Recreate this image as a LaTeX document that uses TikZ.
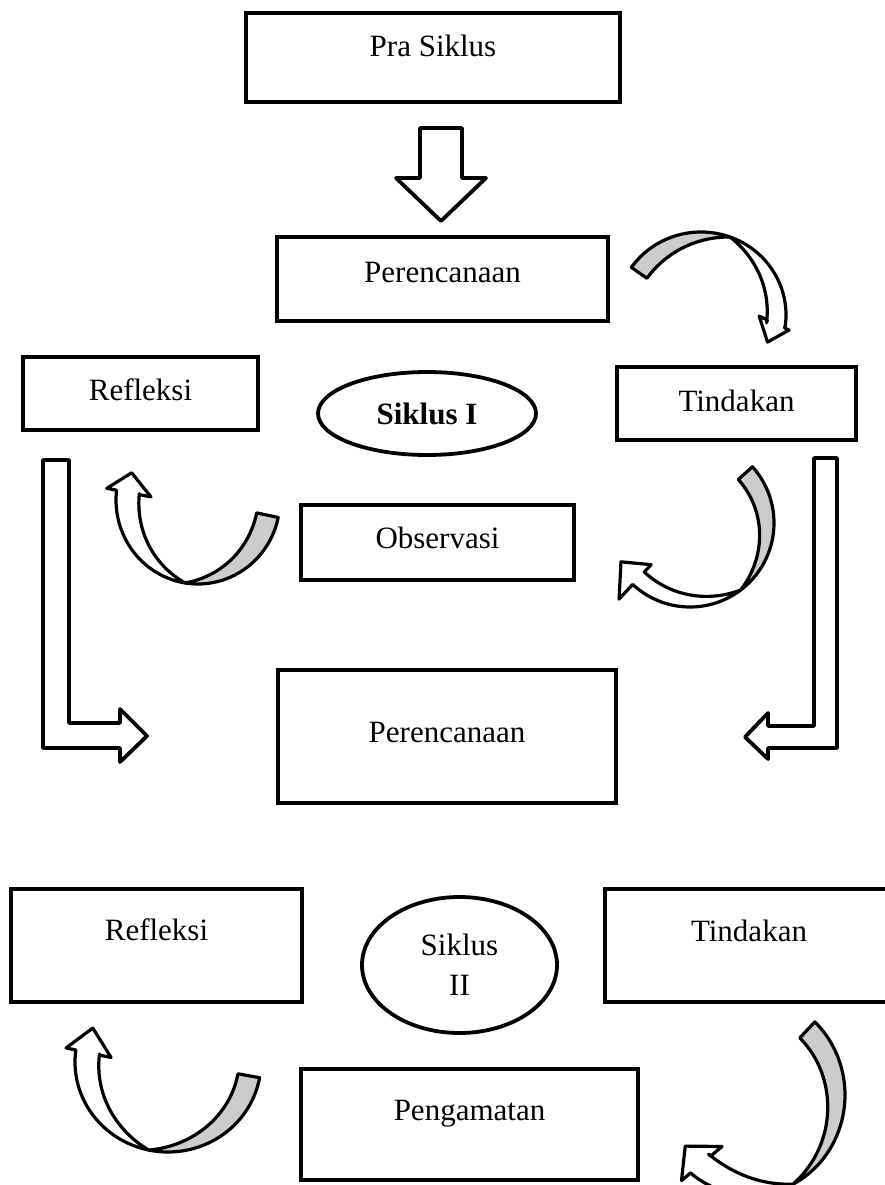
\documentclass[tikz,border=0pt]{standalone}
\usepackage{fontspec}
\setmainfont{Liberation Serif}
\usetikzlibrary{shapes.geometric}

\pgfkeys{/carrow/.cd,
  cx/.store in=\CAx, cy/.store in=\CAy, rx/.store in=\CArx, ry/.store in=\CAry,
  tail/.store in=\CAt, cross/.store in=\CAc, head/.store in=\CAh,
  tg/.store in=\CAtg, tw/.store in=\CAtw, eo/.store in=\CAeo, ei/.store in=\CAei,
  len/.store in=\CAL, tilt/.store in=\CAtilt}

\tikzset{
  boxnode/.style={draw, line width=3.8pt, rectangle, inner sep=0pt,
    font=\fontsize{31}{37}\selectfont},
  ovalnode/.style={draw, ellipse, line width=3.8pt, inner sep=0pt, align=center,
    font=\fontsize{31}{40}\selectfont},
  ribbonback/.style={draw, fill=gray!40, line width=3.2pt, line join=round},
  ribbonfront/.style={draw, fill=white, line width=3.2pt, line join=round},
  blockarrow/.style={draw, fill=white, line width=3.8pt, line join=round},
}

% curved ribbon arrow (clockwise): gray back part from tail to cross, white front part to the head
\newcommand\curvedarrow[1]{%
  \pgfqkeys{/carrow}{tilt=0,#1}%
  \pgfmathsetmacro\CAyy{-\CAy}%
  \pgfmathsetmacro\CAmx{\CAx+(\CArx-\CAtw/2)*cos(\CAh)}%
  \pgfmathsetmacro\CAmy{\CAyy+(\CAry-\CAtw/2)*sin(\CAh)}%
  \pgfmathsetmacro\CAu{\CAh-90-\CAtilt}%
  \pgfmathsetmacro\CAv{\CAh-\CAtilt}%
  \filldraw[ribbonback]
    plot[variable=\t,domain=\CAt:\CAc,samples=40]
      ({\CAx+\CArx*cos(\t)},{\CAyy+\CAry*sin(\t)})
    -- plot[variable=\t,domain=\CAc:\CAt,samples=40]
      ({\CAx+(\CArx-\CAtg*tp(((\t)-(\CAc))/((\CAt)-(\CAc))))*cos(\t)},
       {\CAyy+(\CAry-\CAtg*tp(((\t)-(\CAc))/((\CAt)-(\CAc))))*sin(\t)})
    -- cycle;
  \filldraw[ribbonfront]
    plot[variable=\t,domain=\CAc:\CAh,samples=40]
      ({\CAx+\CArx*cos(\t)},{\CAyy+\CAry*sin(\t)})
    -- ({\CAmx+(\CAtw/2)*cos(\CAv)},{\CAmy+(\CAtw/2)*sin(\CAv)})
    -- ({\CAmx+(\CAtw/2+\CAeo)*cos(\CAv)},{\CAmy+(\CAtw/2+\CAeo)*sin(\CAv)})
    -- ({\CAmx+\CAL*cos(\CAu)},{\CAmy+\CAL*sin(\CAu)})
    -- ({\CAmx-(\CAtw/2+\CAei)*cos(\CAv)},{\CAmy-(\CAtw/2+\CAei)*sin(\CAv)})
    -- ({\CAmx-(\CAtw/2)*cos(\CAv)},{\CAmy-(\CAtw/2)*sin(\CAv)})
    -- plot[variable=\t,domain=\CAh:\CAc,samples=40]
      ({\CAx+(\CArx-\CAtw*tp(((\CAc)-(\t))/((\CAc)-(\CAh))))*cos(\t)},
       {\CAyy+(\CAry-\CAtw*tp(((\CAc)-(\t))/((\CAc)-(\CAh))))*sin(\t)})
    -- cycle;
}

\begin{document}
\begin{tikzpicture}[x=1pt,y=1pt,declare function={tp(\s)=1-(1-\s)*(1-\s);}]
\useasboundingbox (0,0) rectangle (885,-1185);
\clip (0,0) rectangle (885,-1185);
\fill[white] (0,0) rectangle (885,-1185);

% ---------- cycle I ----------
\node[boxnode, minimum width=374pt, text height=44pt, text depth=45pt] (pra) at (433,-57.5) {Pra Siklus};
\node[boxnode, minimum width=331pt, text height=45pt, text depth=39pt] (ren1) at (442.5,-279) {Perencanaan};
\node[boxnode, minimum width=235pt, text height=43pt, text depth=30pt] (ref1) at (140.5,-393.5) {Refleksi};
\node[ovalnode, minimum width=218pt, minimum height=83pt, font=\fontsize{31}{37}\selectfont\bfseries] (sik1) at (427,-413.5) {Siklus I};
\node[boxnode, minimum width=239pt, text height=44pt, text depth=29pt] (tin1) at (736.5,-403.5) {Tindakan};
\node[boxnode, minimum width=273pt, text height=43pt, text depth=32pt] (obs) at (437.5,-542.5) {Observasi};
\node[boxnode, minimum width=338pt, text height=72pt, text depth=61pt] (ren2) at (447,-736.5) {Perencanaan};

% ---------- cycle II ----------
\node[boxnode, minimum width=291pt, text height=51pt, text depth=62pt] (ref2) at (156.5,-945.5) {Refleksi};
\node[ovalnode, minimum width=195pt, minimum height=136pt] (sik2) at (459.5,-965) {Siklus\\II};
\node[boxnode, minimum width=288pt, text height=52pt, text depth=61pt] (tin2) at (749,-945.5) {Tindakan};
\node[boxnode, minimum width=337pt, text height=51pt, text depth=60pt] (peng) at (469.5,-1124.5) {Pengamatan};

% ---------- block arrows ----------
\draw[blockarrow] (420,-128) -- (462,-128) -- (462,-178) -- (486,-178) -- (441,-221)
  -- (396,-178) -- (420,-178) -- cycle;
\draw[blockarrow] (43,-460) -- (43,-748) -- (120,-748) -- (120,-762) -- (147,-736)
  -- (120,-709) -- (120,-723) -- (69,-723) -- (69,-460) -- cycle;
\draw[blockarrow] (837,-458) -- (837,-748) -- (768,-748) -- (768,-759) -- (745,-737)
  -- (768,-713) -- (768,-726) -- (814,-726) -- (814,-458) -- cycle;

% ---------- curved arrows ----------
\curvedarrow{cx=701,cy=315,rx=85,ry=83,tail=145,cross=70,head=-7,tg=19,tw=19,eo=5,ei=9,len=20,tilt=18}
\curvedarrow{cx=690,cy=523,rx=84,ry=84,tail=42,cross=-53,head=-133,tg=19,tw=17,eo=20,ei=10,len=24,tilt=0}
\curvedarrow{cx=198,cy=500,rx=82,ry=84,tail=-12,cross=-99,head=-186,tg=22,tw=23,eo=10,ei=12,len=20,tilt=5}
\curvedarrow{cx=168,cy=1062,rx=93,ry=90,tail=-10,cross=-102,head=-187,tg=22,tw=24,eo=10,ei=12,len=25,tilt=5}
\curvedarrow{cx=750,cy=1095,rx=95,ry=100,tail=47,cross=-63,head=-127,tg=22,tw=26,eo=12,ei=15,len=24,tilt=13}
\end{tikzpicture}
\end{document}
